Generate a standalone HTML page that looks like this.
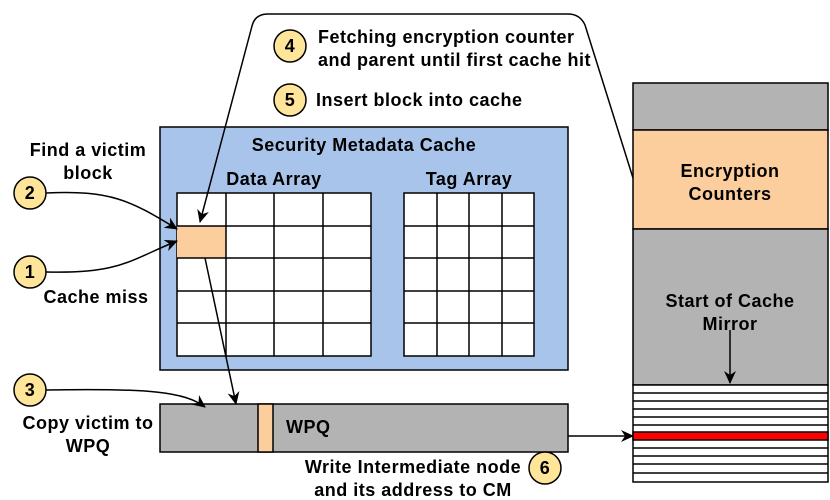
<!DOCTYPE html>
<html><head><style>body{margin:0;background:#fff}svg{display:block}text{font-family:"Liberation Sans",Arial,sans-serif;font-weight:bold;fill:#000;letter-spacing:0.5px}</style></head><body>
<svg width="830" height="500" viewBox="0 0 830 500" xmlns="http://www.w3.org/2000/svg">
<defs><marker id="a" markerWidth="13" markerHeight="12" refX="12" refY="6" orient="auto" markerUnits="userSpaceOnUse"><path d="M0,0 L13,6 L0,12 L4,6 z" fill="#000"/></marker></defs>
<rect x="160" y="127" width="408" height="243" fill="#a9c4eb" stroke="#000" stroke-width="1.5"/>
<text x="364" y="151" font-size="18" text-anchor="middle">Security Metadata Cache</text>
<text x="274" y="185" font-size="18" text-anchor="middle">Data Array</text>
<text x="469" y="185" font-size="18" text-anchor="middle">Tag Array</text>
<rect x="177" y="193" width="194" height="163" fill="#fff" stroke="#000" stroke-width="1.5"/>
<rect x="177" y="226" width="49" height="32" fill="#fccd9d"/>
<g stroke="#000" stroke-width="1.5">
<line x1="226" y1="193" x2="226" y2="356"/><line x1="274" y1="193" x2="274" y2="356"/><line x1="323" y1="193" x2="323" y2="356"/>
<line x1="177" y1="226" x2="371" y2="226"/><line x1="177" y1="258" x2="371" y2="258"/><line x1="177" y1="291" x2="371" y2="291"/><line x1="177" y1="323" x2="371" y2="323"/>
</g>
<rect x="404" y="193" width="130" height="163" fill="#fff" stroke="#000" stroke-width="1.5"/>
<g stroke="#000" stroke-width="1.5">
<line x1="437" y1="193" x2="437" y2="356"/><line x1="469" y1="193" x2="469" y2="356"/><line x1="502" y1="193" x2="502" y2="356"/>
<line x1="404" y1="226" x2="534" y2="226"/><line x1="404" y1="258" x2="534" y2="258"/><line x1="404" y1="291" x2="534" y2="291"/><line x1="404" y1="323" x2="534" y2="323"/>
</g>
<rect x="160" y="404" width="408" height="48" fill="#b3b3b3" stroke="#000" stroke-width="1.5"/>
<rect x="258" y="404" width="15" height="48" fill="#fccd9d" stroke="#000" stroke-width="1.5"/>
<text x="286" y="433" font-size="18">WPQ</text>
<rect x="633" y="83" width="195" height="47" fill="#b3b3b3" stroke="#000" stroke-width="1.5"/>
<rect x="633" y="130" width="195" height="99" fill="#fccd9d" stroke="#000" stroke-width="1.5"/>
<rect x="633" y="229" width="195" height="156" fill="#b3b3b3" stroke="#000" stroke-width="1.5"/>
<text x="730" y="177" font-size="18" text-anchor="middle">Encryption</text>
<text x="730" y="200" font-size="18" text-anchor="middle">Counters</text>
<text x="730" y="307" font-size="18" text-anchor="middle">Start of Cache</text>
<text x="730" y="330" font-size="18" text-anchor="middle">Mirror</text>
<rect x="633" y="385" width="195" height="97" fill="#fff" stroke="#000" stroke-width="1.5"/>
<rect x="633" y="432" width="195" height="8" fill="#f00" stroke="#000" stroke-width="1.5"/>
<g stroke="#000" stroke-width="1.5">
<line x1="633" y1="393" x2="828" y2="393"/><line x1="633" y1="401" x2="828" y2="401"/><line x1="633" y1="409" x2="828" y2="409"/><line x1="633" y1="417" x2="828" y2="417"/><line x1="633" y1="425" x2="828" y2="425"/><line x1="633" y1="448" x2="828" y2="448"/><line x1="633" y1="456" x2="828" y2="456"/><line x1="633" y1="464" x2="828" y2="464"/><line x1="633" y1="473" x2="828" y2="473"/>
</g>
<g stroke="#000" stroke-width="1.5" fill="none" marker-end="url(#a)">
<path d="M46,193 C110,190 130,200 177,229"/>
<path d="M46,272 C120,274 130,260 177,241"/>
<path d="M46,390 C150,388 185,392 205,407"/>
<path d="M633,178 L585,25 Q580,14 568,14 L268,14 Q255,14 252,26 L200,222"/>
<path d="M205,258 L236,404"/>
<path d="M568,436 L633,436"/>
<path d="M730,330 L730,383"/>
</g>
<g stroke="#000" stroke-width="1.5" fill="#ffe599">
<circle cx="30" cy="193" r="16"/><circle cx="30" cy="272" r="16"/><circle cx="30" cy="390" r="16"/>
<circle cx="290" cy="46" r="16"/><circle cx="290" cy="100" r="16"/><circle cx="545" cy="468" r="16"/>
</g>
<g font-size="18" text-anchor="middle">
<text x="30" y="199">2</text><text x="30" y="278">1</text><text x="30" y="396">3</text>
<text x="290" y="52">4</text><text x="290" y="106">5</text><text x="545" y="474">6</text>
</g>
<g font-size="18">
<text x="88" y="156" text-anchor="middle">Find a victim</text>
<text x="88" y="179" text-anchor="middle">block</text>
<text x="96" y="303" text-anchor="middle">Cache miss</text>
<text x="88" y="429" text-anchor="middle">Copy victim to</text>
<text x="88" y="452" text-anchor="middle">WPQ</text>
<text x="318" y="43">Fetching encryption counter</text>
<text x="318" y="66">and parent until first cache hit</text>
<text x="316" y="106">Insert block into cache</text>
<text x="413" y="473" text-anchor="middle">Write Intermediate node</text>
<text x="413" y="496" text-anchor="middle">and its address to CM</text>
</g>
</svg>
</body></html>
